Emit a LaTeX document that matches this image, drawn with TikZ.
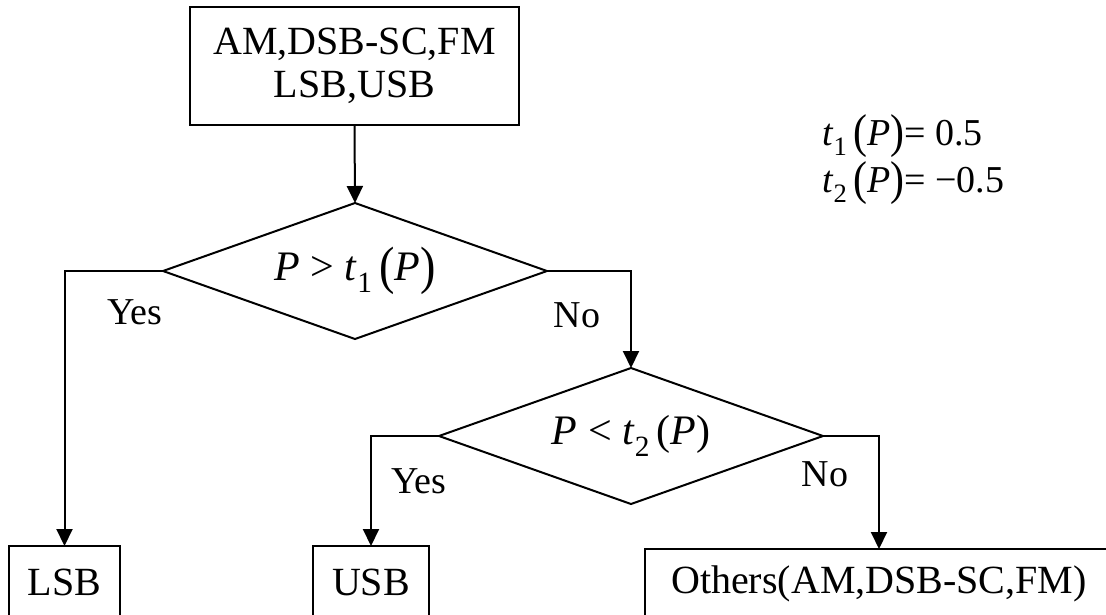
\documentclass[tikz,border=0pt]{standalone}
\usepackage{fontspec}
\setmainfont{Liberation Serif}
\usetikzlibrary{shapes.geometric,arrows.meta}

% subscript digit and tall parentheses for the threshold expressions
\newcommand{\subsc}[1]{\raisebox{-0.27em}{\scalebox{0.7}{#1}}}
\newcommand{\tallL}{\raisebox{-0.07em}{\scalebox{1.1}[1.25]{(}}}
\newcommand{\tallR}{\raisebox{-0.07em}{\scalebox{1.1}[1.25]{)}}}

\begin{document}
\begin{tikzpicture}[x=1pt,y=-1pt,
  box/.style={draw, line width=2pt, inner sep=0pt, outer sep=0pt,
    font=\fontsize{40}{43}\selectfont},
  decision/.style={draw, shape=diamond, shape aspect=2.82,
    minimum width=384pt, minimum height=136pt, inner sep=0pt, outer sep=0pt,
    line width=2pt, font=\fontsize{42}{44}\selectfont},
  flow/.style={line width=2pt, -{Triangle[length=17pt,width=16pt]}},
  lbl/.style={font=\fontsize{38}{40}\selectfont, inner sep=0pt, anchor=base},
  formula/.style={font=\fontsize{38}{42}\selectfont, inner sep=0pt, anchor=base west}]

\useasboundingbox (0,0) rectangle (1106,614);
\clip (0,0) rectangle (1106,614);

% source set and the two threshold tests
\node[box, minimum width=329pt, minimum height=118pt, align=center]
  (src) at (354.5,66) {AM,DSB-SC,FM\\LSB,USB};
\node[decision] (d1) at (355,271)
  {\textit{P} > \textit{t}\subsc{1}\,\tallL\textit{P}\tallR};
\node[decision] (d2) at (631,436)
  {\textit{P} < \textit{t}\subsc{2}\,(\textit{P})};

% outcomes (boxes run past the lower edge)
\node[box, anchor=north, minimum width=111pt, minimum height=72pt]
  (lsb) at (64.5,546) {LSB};
\node[box, anchor=north, minimum width=116pt, minimum height=72pt]
  (usb) at (371,546) {USB};
\node[box, anchor=north, minimum width=468pt, minimum height=70pt]
  (oth) at (879,549) {Others(AM,DSB-SC,FM)};

% connectors
\draw[flow] (src.south) -- (d1.north);
\draw[flow] (d1.west) -| (lsb.north);
\draw[flow] (d1.east) -| (d2.north);
\draw[flow] (d2.west) -| (usb.north);
\draw[flow] (d2.east) -| (oth.north);

% branch labels
\node[lbl] (y1) at (135,324) {Yes};
\node[lbl] (n1) at (577,327) {No};
\node[lbl] (y2) at (419,493) {Yes};
\node[lbl] (n2) at (825,486) {No};

% threshold values
\node[formula] (f1) at (822,145)
  {\textit{t}\subsc{1}\,\tallL\textit{P}\tallR= 0.5};
\node[formula] (f2) at (822,192)
  {\textit{t}\subsc{2}\,\tallL\textit{P}\tallR= −0.5};
\end{tikzpicture}
\end{document}
